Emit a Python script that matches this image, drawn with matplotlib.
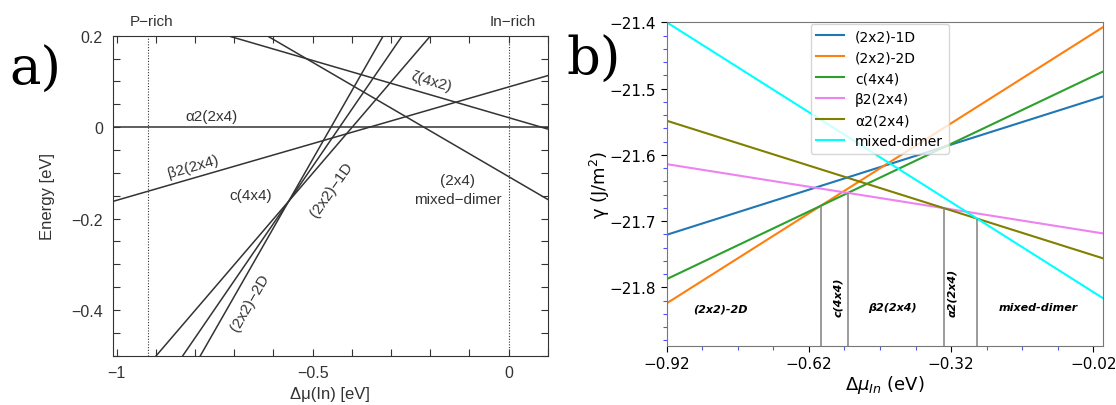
import numpy as np
import matplotlib
matplotlib.use('Agg')
import matplotlib.pyplot as plt
from matplotlib.ticker import MultipleLocator, FixedLocator

# panel a: formation energy lines E = a + b * dmu  (eV)
phases_a = ['α2(2x4)', 'β2(2x4)', 'ζ(4x2)', 'mixed-dimer', 'c(4x4)', '(2x2)-1D', '(2x2)-2D']
intercepts_a = [0.0, 0.088, 0.021, -0.108, 0.399, 0.539, 0.6795]
slopes_a = [0.0, 0.248, -0.25, -0.5, 1.0, 1.25, 1.5]
limits_a = [-0.92, 0.0]          # P-rich / In-rich
limit_names_a = ['P−rich', 'In−rich']
xticks_a = [-1, -0.5, 0]
xticklabels_a = ['−1', '−0.5', '0']
yticks_a = [-0.4, -0.2, 0, 0.2]
yticklabels_a = ['−0.4', '−0.2', '0', '0.2']

# panel b: surface energy vs chemical potential
mu_b = [-0.92, 0.0]
gamma_1d = [-21.7206, -21.512]
gamma_2d = [-21.824, -21.4076]
gamma_c44 = [-21.7875, -21.4745]
gamma_beta2 = [-21.614, -21.7185]
gamma_alpha2 = [-21.5485, -21.756]
gamma_mixed = [-21.4, -21.816]
labels_b = ['(2x2)-1D', '(2x2)-2D', 'c(4x4)', 'β2(2x4)', 'α2(2x4)', 'mixed-dimer']
colors_b = ['#1f77b4', '#ff7f0e', '#2ca02c', 'violet', 'olive', 'cyan']
xticks_b = [-0.92, -0.62, -0.32, -0.02]
xticklabels_b = ['−0.92', '−0.62', '−0.32', '−0.02']
yticks_b = [-21.8, -21.7, -21.6, -21.5, -21.4]
yticklabels_b = ['−21.8', '−21.7', '−21.6', '−21.5', '−21.4']

fig = plt.figure(figsize=(11.16, 4.06), dpi=100)

# ---------------- panel a ----------------
dark = '#333333'
ax = fig.add_axes([0.101, 0.1214, 0.3898, 0.788])
ax.set_xlim(-1.01, 0.1)
ax.set_ylim(-0.5, 0.2)
for a, b in zip(intercepts_a, slopes_a):
    ax.axline((0, a), slope=b, color=dark, lw=1.1)
for x0, name in zip(limits_a, limit_names_a):
    ax.axvline(x0, color=dark, lw=0.8, linestyle=(0, (1, 1.5)))
    ax.text(x0 + 0.01, 1.047, name, transform=ax.get_xaxis_transform(),
            ha='center', va='center', fontsize=11, color=dark, family='Liberation Sans')

ax.set_xticks(xticks_a)
ax.set_xticklabels(xticklabels_a)
ax.set_yticks(yticks_a)
ax.set_yticklabels(yticklabels_a)
ax.xaxis.set_minor_locator(MultipleLocator(0.1))
ax.yaxis.set_minor_locator(MultipleLocator(0.05))
ax.tick_params(which='both', direction='in', top=True, right=True, length=5,
               width=0.8, color=dark, labelcolor=dark, labelsize=11.5, pad=7)
for lab in ax.get_xticklabels() + ax.get_yticklabels():
    lab.set_family('Liberation Sans')
for sp in ax.spines.values():
    sp.set_color(dark)
ax.set_xlabel('Δμ(In) [eV]', fontsize=12, color=dark, family='Liberation Sans')
ax.set_ylabel('Energy [eV]', fontsize=12, color=dark, family='Liberation Sans', labelpad=12)

txt = dict(fontsize=11, color=dark, family='Liberation Sans', ha='center', va='center')
ax.text(-0.758, 0.024, 'α2(2x4)', **txt)
ax.text(-0.805, -0.084, 'β2(2x4)', rotation=16, **txt)
ax.text(-0.659, -0.149, 'c(4x4)', **txt)
ax.text(-0.452, -0.135, '(2x2)−1D', rotation=55, **txt)
ax.text(-0.660, -0.382, '(2x2)−2D', rotation=60, **txt)
ax.text(-0.198, 0.102, 'ζ(4x2)', rotation=-16, **txt)
ax.text(-0.13, -0.136, '(2x4)\nmixed−dimer', linespacing=1.4, **txt)

fig.text(0.008, 0.79, 'a)', fontsize=38, family='DejaVu Serif', ha='left', va='baseline')

# ---------------- panel b ----------------
bx = fig.add_axes([0.5974, 0.146, 0.3907, 0.7966])
series_b = [gamma_1d, gamma_2d, gamma_c44, gamma_beta2, gamma_alpha2, gamma_mixed]
for g, lab, c in zip(series_b, labels_b, colors_b):
    bx.plot(mu_b, g, color=c, lw=1.5, label=lab)
bx.set_xlim(-0.92, 0.0)
bx.set_ylim(-21.888, -21.4)

# phase boundaries where the lowest line changes
def crossing(g1, g2):
    s1 = (g1[1] - g1[0]) / (mu_b[1] - mu_b[0])
    s2 = (g2[1] - g2[0]) / (mu_b[1] - mu_b[0])
    xc = mu_b[0] + (g2[0] - g1[0]) / (s1 - s2)
    return xc, g1[0] + s1 * (xc - mu_b[0])

for g1, g2 in [(gamma_2d, gamma_c44), (gamma_c44, gamma_beta2),
               (gamma_beta2, gamma_alpha2), (gamma_alpha2, gamma_mixed)]:
    xc, yc = crossing(g1, g2)
    bx.vlines(xc, -21.888, yc, color='gray', lw=1.3, alpha=0.85)

reg = dict(fontsize=8, fontweight='bold', fontstyle='italic', ha='center', va='center')
bx.text(-0.806, -21.832, '(2x2)-2D', **reg)
bx.text(-0.559, -21.813, 'c(4x4)', rotation=90, **reg)
bx.text(-0.443, -21.830, 'β2(2x4)', **reg)
bx.text(-0.318, -21.806, 'α2(2x4)', rotation=90, **reg)
bx.text(-0.136, -21.830, 'mixed-dimer', **reg)

bx.xaxis.set_major_locator(FixedLocator(xticks_b))
bx.set_xticklabels(xticklabels_b)
bx.yaxis.set_major_locator(FixedLocator(yticks_b))
bx.set_yticklabels(yticklabels_b)
bx.xaxis.set_minor_locator(FixedLocator(np.arange(-0.92, 0.001, 0.075)))
bx.yaxis.set_minor_locator(MultipleLocator(0.02))
bx.tick_params(which='major', labelsize=11, length=4)
bx.tick_params(which='minor', color='#5050ff', length=3, width=0.8)
for sp in bx.spines.values():
    sp.set_color('#777777')
bx.set_xlabel(r'$\Delta\mu_{In}$ (eV)', fontsize=13, labelpad=1)
bx.set_ylabel(r'γ (J/m$^2$)', fontsize=13, labelpad=-2)
bx.legend(loc='upper left', bbox_to_anchor=(0.327, 1.0), borderaxespad=0.1, fontsize=10)

fig.text(0.508, 0.815, 'b)', fontsize=38, family='DejaVu Serif', ha='left', va='baseline')

plt.savefig('out.png', dpi=100)
